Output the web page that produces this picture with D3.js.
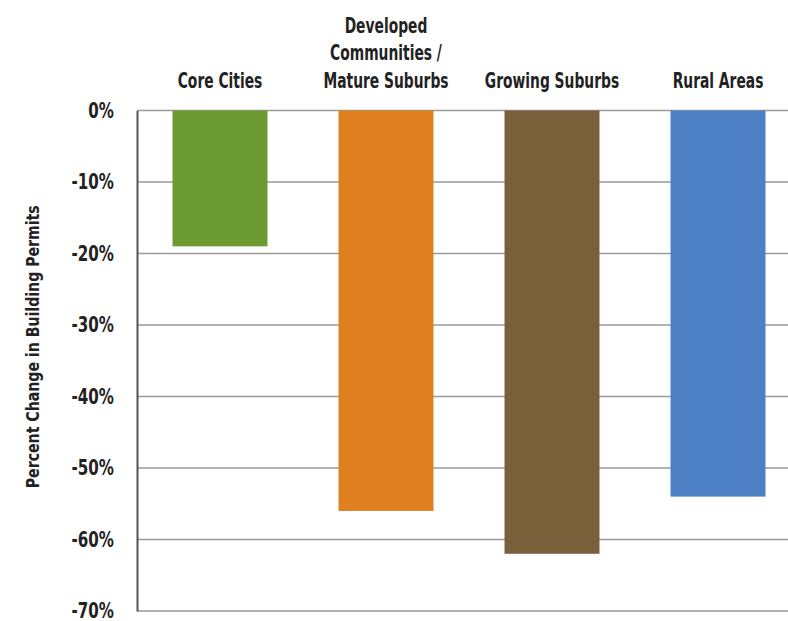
<!DOCTYPE html>
<html>
<head>
<meta charset="utf-8">
<script src="https://cdn.jsdelivr.net/npm/d3@7/dist/d3.min.js"></script>
<style>
  html, body { margin: 0; padding: 0; background: #fff; }
  svg { display: block; }
  text { font-family: "DejaVu Sans Condensed", "Liberation Sans Narrow", "Arial Narrow", sans-serif; fill: #222; }
</style>
</head>
<body>
<svg id="chart" width="788" height="621"></svg>
<script>
// Percent change in building permits by community type
const categories = ["Core Cities", "Developed Communities / Mature Suburbs", "Growing Suburbs", "Rural Areas"];
const categoryLines = [["Core Cities"], ["Developed", "Communities /", "Mature Suburbs"], ["Growing Suburbs"], ["Rural Areas"]];
const values = [-19, -56, -62, -54];
const colors = ["#6a9a31", "#e07f1f", "#7a5f3b", "#4d80c4"];
const yTicks = [0, -10, -20, -30, -40, -50, -60, -70];
const yLabel = "Percent Change in Building Permits";

const svg = d3.select("#chart");
const plot = { left: 137, right: 801, top: 110.5, bottom: 611 };

// horizontal squeeze that gives the labels a tall, condensed look
const tickSqueeze = 0.82;
const catSqueeze = 0.70;

const x = d3.scaleBand()
  .domain(categories)
  .range([plot.left, plot.right])
  .paddingInner(0.428)
  .paddingOuter(0.214);

const y = d3.scaleLinear()
  .domain([0, -70])
  .range([plot.top, plot.bottom]);

// horizontal gridlines
svg.append("g")
  .selectAll("line")
  .data(yTicks)
  .join("line")
  .attr("x1", plot.left)
  .attr("x2", plot.right)
  .attr("y1", d => y(d))
  .attr("y2", d => y(d))
  .attr("stroke", "#9a9a9a")
  .attr("stroke-width", 1.6);

// bars hang down from zero
svg.append("g")
  .selectAll("rect")
  .data(values)
  .join("rect")
  .attr("x", (d, i) => x(categories[i]))
  .attr("width", x.bandwidth())
  .attr("y", y(0))
  .attr("height", d => y(d) - y(0))
  .attr("fill", (d, i) => colors[i]);

// y axis with percent labels
const tickGap = 23;
const yAxis = d3.axisLeft(y)
  .tickValues(yTicks)
  .tickSize(0)
  .tickPadding(tickGap)
  .tickFormat(d => d + "%");

const gy = svg.append("g")
  .attr("transform", `translate(${plot.left},0)`)
  .call(yAxis);
gy.select(".domain").attr("stroke", "#555").attr("stroke-width", 2);
gy.selectAll(".tick text")
  .attr("font-size", 20.5)
  .attr("font-weight", "bold")
  .attr("font-family", null)
  .attr("fill", "#222")
  .attr("x", -tickGap / tickSqueeze)
  .attr("transform", `scale(${tickSqueeze},1)`);

// category labels above the plot
const lineGap = 27.5;
const lastBaseline = 88;
const cats = svg.append("g")
  .selectAll("g")
  .data(categories)
  .join("g")
  .attr("transform", d => `translate(${x(d) + x.bandwidth() / 2},0)`);

cats.append("text")
  .attr("text-anchor", "middle")
  .attr("font-size", 22)
  .attr("font-weight", "bold")
  .attr("transform", `scale(${catSqueeze},1)`)
  .each(function(d, i) {
    const lines = categoryLines[i];
    d3.select(this).selectAll("tspan")
      .data(lines)
      .join("tspan")
      .attr("x", 0)
      .attr("y", (l, j) => lastBaseline - (lines.length - 1 - j) * lineGap)
      .text(l => l);
  });

// y axis title
svg.append("text")
  .attr("transform", `translate(39, ${(plot.top + plot.bottom) / 2 - 14}) rotate(-90)`)
  .attr("text-anchor", "middle")
  .attr("font-size", 18)
  .attr("font-weight", "bold")
  .attr("fill", "#2a2a2a")
  .attr("textLength", 283)
  .attr("lengthAdjust", "spacingAndGlyphs")
  .text(yLabel);
</script>
</body>
</html>
